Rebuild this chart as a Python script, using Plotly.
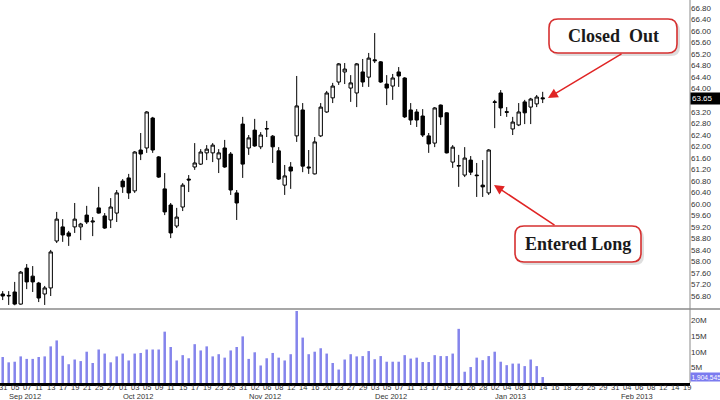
import plotly.graph_objects as go

# ---------------- data ----------------
bar_index = list(range(91))  # trading days Aug 31 2012 .. Jan 14 2013

opens = [56.87,56.80,56.94,56.52,57.77,57.49,57.25,56.87,57.08,58.71,
         59.20,58.99,59.20,59.20,59.61,59.37,59.86,59.58,59.44,59.68,
         60.79,60.90,60.45,61.87,61.94,62.98,61.63,60.52,59.96,59.23,
         59.89,60.86,61.28,61.38,61.77,61.77,61.56,61.94,61.73,60.38,
         62.77,61.94,62.56,61.98,62.60,62.35,61.84,60.65,61.28,62.36,
         63.26,61.28,61.04,62.36,63.19,63.68,64.23,64.58,64.02,63.85,
         64.58,64.40,65.00,64.93,64.16,64.09,64.58,64.37,63.26,63.19,
         63.05,62.36,62.11,63.43,63.16,61.45,61.31,61.00,61.52,61.00,
         60.65,60.38,63.52,63.85,63.20,62.60,62.74,63.54,63.36,63.47,
         63.68]
highs = [56.97,56.97,57.29,57.67,57.91,57.84,57.29,57.15,58.40,59.72,
         59.47,59.06,60.03,59.34,59.93,59.54,60.59,59.68,60.20,60.48,
         60.86,61.04,61.83,62.46,63.22,63.02,61.66,61.07,60.03,59.86,
         60.72,61.00,62.11,61.90,62.04,62.11,61.90,62.22,61.80,60.48,
         63.02,62.39,62.95,62.49,62.88,62.39,61.97,61.35,61.45,64.44,
         63.50,61.87,62.32,63.50,63.92,64.20,64.89,64.89,64.47,64.89,
         65.03,65.24,65.93,64.96,64.47,64.51,64.75,64.40,63.50,63.29,
         63.29,62.46,63.36,63.45,63.18,62.04,61.70,61.97,61.66,61.42,
         61.52,61.90,63.61,63.95,63.36,63.02,63.50,63.61,63.68,63.78,
         63.89]
lows = [56.66,56.49,56.48,56.50,57.04,56.94,56.59,56.49,56.80,58.64,
        58.68,58.54,58.99,58.74,59.30,58.88,59.66,59.13,59.16,59.37,
        60.38,60.17,60.38,61.52,61.77,61.77,60.90,59.61,58.81,59.16,
        59.75,60.41,61.18,61.35,61.52,61.45,61.07,61.25,60.31,59.44,
        60.90,61.70,61.98,61.90,62.32,61.42,60.83,60.31,60.52,62.15,
        61.10,61.04,61.02,62.32,63.16,63.50,64.13,64.16,63.54,63.36,
        64.06,64.06,64.89,64.20,63.43,63.61,64.06,62.98,62.74,62.67,
        62.32,61.77,61.97,62.74,61.75,61.25,60.59,60.93,61.00,60.24,
        60.24,60.31,62.63,63.05,63.02,62.39,62.70,62.77,62.77,63.36,
        63.50]
closes = [56.80,56.82,56.52,57.63,57.29,57.29,56.73,57.08,58.33,59.47,
          58.92,58.88,59.47,59.30,59.37,59.40,59.68,59.16,59.89,60.38,
          60.59,60.38,61.80,61.73,63.19,61.87,60.93,59.72,58.99,59.54,
          60.65,60.83,61.42,61.80,61.90,62.04,61.77,61.28,60.48,60.03,
          61.38,62.29,62.01,62.39,62.61,61.98,60.86,60.97,61.14,63.40,
          61.31,61.25,62.15,63.36,63.85,64.09,64.86,64.68,64.20,64.86,
          64.23,65.06,64.97,64.23,64.02,64.37,64.44,63.02,62.91,62.91,
          62.39,62.08,63.33,63.02,61.77,61.97,61.33,61.59,61.10,60.98,
          60.59,61.87,63.54,63.33,63.18,62.84,63.19,63.16,63.64,63.71,
          63.65]
volume_m = [8.3,6.6,6.8,8.5,7.7,7.7,8.3,8.5,11.7,13.6,
            8.7,6.0,7.5,7.0,10.0,6.4,10.7,9.4,6.6,8.5,
            9.4,7.2,9.4,9.6,10.7,10.7,10.7,16.4,11.5,7.2,
            8.9,7.9,12.4,10.4,11.7,8.5,9.2,8.1,10.4,11.5,
            14.9,7.7,9.8,5.6,7.9,9.6,8.1,7.2,9.2,23.0,
            14.5,9.2,10.0,11.1,9.4,6.4,4.3,7.5,9.2,8.5,
            8.6,10.2,7.6,8.6,6.8,6.8,6.8,8.9,7.8,8.1,
            6.7,6.7,8.9,8.6,8.6,9.4,17.3,3.6,5.1,8.1,
            7.3,8.6,10.0,6.8,5.7,6.2,6.2,5.4,7.5,5.4,
            1.904545]

# x-axis labels (every 2nd trading day, axis runs to Feb 19 2013 = index 114)
day_tick_index = list(range(0, 115, 2))
day_labels = ["31","05","07","11","13","17","19","21","25","27",
              "01","03","05","09","11","15","17","19","23","25",
              "31","02","06","08","12","14","16","20","23","27","29",
              "03","05","07","11","13","17","19","21","26","28",
              "02","04","08","10","14","16","18","23","25","29","31",
              "04","06","08","12","14","19"]
month_labels = ["Sep 2012","Oct 2012","Nov 2012","Dec 2012","Jan 2013","Feb 2013"]
month_start_index = [1, 20, 41, 62, 82, 103]

price_ticks = [round(56.8 + 0.4*k, 2) for k in range(26)]
vol_ticks = [5, 10, 15, 20]
vol_tick_labels = ["5M", "10M", "15M", "20M"]

last_close_label = "63.65"
last_volume_label = "1,904,545"

# ---------------- figure ----------------
W_PLOT, H_PLOT = 690, 383
def px(x):  # pixel -> paper x
    return x / W_PLOT
def py(y):  # pixel -> paper y
    return 1 - y / H_PLOT

# the last-close marker covers the tick label next to it
shown_price_ticks = [v for v in price_ticks if abs(v - closes[-1]) > 0.2]

fig = go.Figure()
fig.add_trace(go.Candlestick(
    x=bar_index, open=opens, high=highs, low=lows, close=closes,
    increasing=dict(fillcolor="white", line=dict(color="black", width=1)),
    decreasing=dict(fillcolor="black", line=dict(color="black", width=1)),
    whiskerwidth=0, xaxis="x", yaxis="y", hoverinfo="skip"))
fig.add_trace(go.Bar(
    x=bar_index, y=volume_m, width=0.42, marker=dict(color="#8484EC", line=dict(width=0)),
    xaxis="x2", yaxis="y2", hoverinfo="skip"))

tickfont = dict(family="Liberation Sans", size=8, color="#333333")
xtickfont = dict(family="Liberation Sans", size=7.5, color="#333333")

fig.update_layout(
    width=720, height=400,
    margin=dict(l=0, r=30, t=0, b=17),
    paper_bgcolor="white", plot_bgcolor="white",
    showlegend=False,
    boxgap=0.3, boxgroupgap=0.2,
    xaxis=dict(domain=[0, 1], range=[-0.45, 114.55], anchor="y",
               showticklabels=False, showgrid=False, zeroline=False,
               rangeslider=dict(visible=False), fixedrange=True),
    xaxis2=dict(domain=[0, 1], range=[-0.45, 114.55], anchor="y2", matches="x",
                showticklabels=False, ticks="", showgrid=False, zeroline=False,
                showline=True, linecolor="black", linewidth=2.5),
    yaxis=dict(domain=[1 - 308/383, 1], range=[56.384, 67.078], side="right",
               tickmode="array", tickvals=shown_price_ticks,
               ticktext=[f"{v:.2f}" for v in shown_price_ticks],
               tickfont=tickfont, showgrid=False, zeroline=False,
               showline=False, ticks=""),
    yaxis2=dict(domain=[0, 72/383], range=[0, 23.0], side="right",
                tickmode="array", tickvals=vol_ticks, ticktext=vol_tick_labels,
                tickfont=tickfont, showgrid=False, zeroline=False,
                showline=False, ticks=""),
)

shapes = []
# panel separator and right axis line
shapes.append(dict(type="line", xref="paper", yref="paper", x0=0, x1=720/W_PLOT,
                   y0=py(309), y1=py(309), line=dict(color="#8a8a8a", width=1.5)))
shapes.append(dict(type="line", xref="paper", yref="paper", x0=1, x1=1,
                   y0=0, y1=1, line=dict(color="#8a8a8a", width=1)))

def rounded_rect(x0, y0, x1, y1, r):
    rx, ry = r / W_PLOT, r / H_PLOT
    X0, X1 = px(x0), px(x1)
    Yt, Yb = py(y0), py(y1)
    return (f"M {X0+rx},{Yt} L {X1-rx},{Yt} Q {X1},{Yt} {X1},{Yt-ry} "
            f"L {X1},{Yb+ry} Q {X1},{Yb} {X1-rx},{Yb} L {X0+rx},{Yb} "
            f"Q {X0},{Yb} {X0},{Yb+ry} L {X0},{Yt-ry} Q {X0},{Yt} {X0+rx},{Yt} Z")

boxes = [(549, 19, 677, 53), (515, 226, 641, 262)]
for (x0, y0, x1, y1) in boxes:
    shapes.append(dict(type="path", xref="paper", yref="paper",
                       path=rounded_rect(x0+3, y0+3, x1+3, y1+3, 9),
                       fillcolor="rgba(0,0,0,0.13)", line=dict(width=0)))
    shapes.append(dict(type="path", xref="paper", yref="paper",
                       path=rounded_rect(x0, y0, x1, y1, 9),
                       fillcolor="white", line=dict(color="#D63030", width=1.6)))
fig.update_layout(shapes=shapes)

annotations = []
callout_font = dict(family="Liberation Serif", size=18, color="#1a1a1a")
annotations.append(dict(xref="paper", yref="paper", x=px(613), y=py(36),
                        xanchor="center", yanchor="middle",
                        text="<b>Closed  Out</b>", showarrow=False, font=callout_font))
annotations.append(dict(xref="paper", yref="paper", x=px(578), y=py(244),
                        xanchor="center", yanchor="middle",
                        text="<b>Entered Long</b>", showarrow=False, font=callout_font))
# arrows
annotations.append(dict(xref="paper", yref="paper", x=px(548), y=py(98),
                        ax=75, ay=-45, text="", showarrow=True, arrowhead=2,
                        arrowsize=1.3, arrowwidth=1.5, arrowcolor="#E02424", standoff=0))
annotations.append(dict(xref="paper", yref="paper", x=px(494), y=py(185),
                        ax=62, ay=41, text="", showarrow=True, arrowhead=2,
                        arrowsize=1.3, arrowwidth=1.5, arrowcolor="#E02424", standoff=0))
# day labels under the axis
for lab, idx in zip(day_labels, day_tick_index):
    annotations.append(dict(xref="x2", yref="paper", x=idx, y=py(387.5),
                            xanchor="center", yanchor="middle", text=lab,
                            showarrow=False, font=xtickfont))
# month labels
for lab, idx in zip(month_labels, month_start_index):
    annotations.append(dict(xref="x2", yref="paper", x=idx - 0.3, y=py(396),
                            xanchor="left", yanchor="middle", text=lab,
                            showarrow=False, font=xtickfont))
# last value highlights
annotations.append(dict(xref="paper", yref="y", x=1.0, y=closes[-1], xanchor="left",
                        yanchor="middle",
                        text=last_close_label, showarrow=False, bgcolor="black",
                        font=dict(family="Liberation Sans", size=8, color="white"),
                        width=30, align="left", borderpad=1))
annotations.append(dict(xref="paper", yref="y2", x=1.0, y=volume_m[-1], xanchor="left",
                        yanchor="middle",
                        text=last_volume_label, showarrow=False, bgcolor="#7B7BEF",
                        font=dict(family="Liberation Sans", size=6.6, color="white"),
                        width=29, align="left", borderpad=0.5))
fig.update_layout(annotations=annotations)

fig.write_html("out.html", config={"displayModeBar": False},
               post_script="document.body.style.margin='0';document.body.style.overflow='hidden';")
